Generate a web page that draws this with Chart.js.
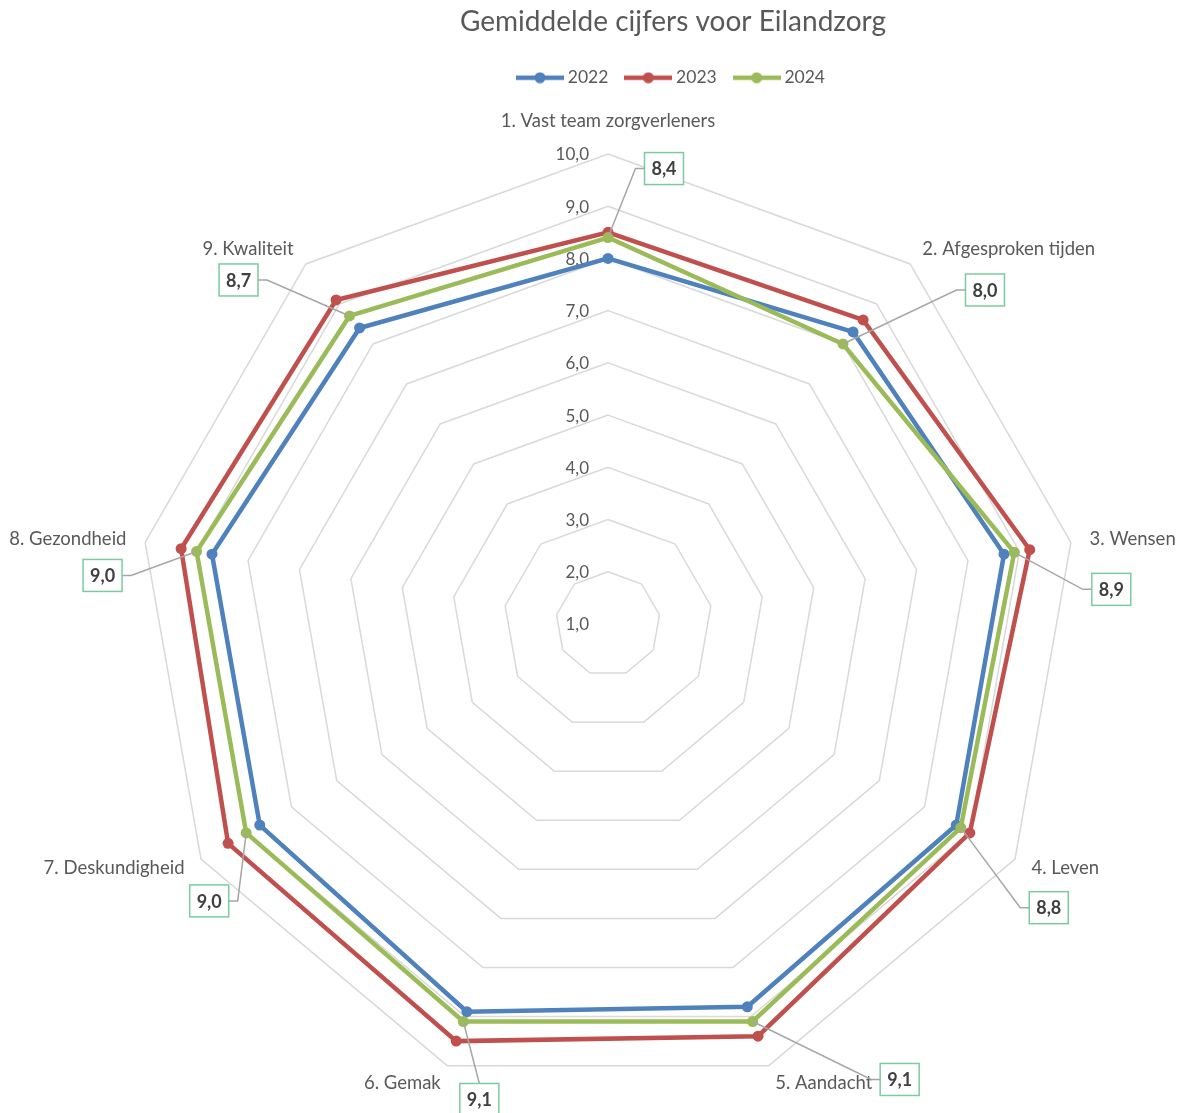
<!DOCTYPE html>
<html>
<head>
<meta charset="utf-8">
<title>Gemiddelde cijfers voor Eilandzorg</title>
<script src="https://cdn.jsdelivr.net/npm/chart.js@4.4.0/dist/chart.umd.min.js"></script>
<style>
  html, body { margin: 0; padding: 0; background: #fff; }
  #wrap { width: 1187px; height: 1113px; }
</style>
</head>
<body>
<div id="wrap"><canvas id="chart" width="1187" height="1113"></canvas></div>
<script>
const categories = [
  '1. Vast team zorgverleners',
  '2. Afgesproken tijden',
  '3. Wensen',
  '4. Leven',
  '5. Aandacht',
  '6. Gemak',
  '7. Deskundigheid',
  '8. Gezondheid',
  '9. Kwaliteit'
];
const values2022 = [8.0, 8.3, 8.7, 8.7, 8.8, 8.9, 8.7, 8.7, 8.4];
const values2023 = [8.5, 8.6, 9.2, 9.0, 9.4, 9.5, 9.4, 9.3, 9.1];
const values2024 = [8.4, 8.0, 8.9, 8.8, 9.1, 9.1, 9.0, 9.0, 8.7];
const tickLabels = ['1,0', '2,0', '3,0', '4,0', '5,0', '6,0', '7,0', '8,0', '9,0', '10,0'];

// value boxes of 2024, offset from their point in px (dragged by hand in the original)
const boxOffsets = [[56, -69], [142, -54], [97, 37], [88, 80], [147, 58], [16, 78], [-37, 68], [-94, 24], [-111, -36]];
// the plot sits left of the title/legend centre in the original
const plotShift = {x: -65, y: 57};

const FONT = 'Lato, "Open Sans", sans-serif';
const GREY = '#595959';
const BLUE = '#4f81bd', RED = '#c0504d', GREEN = '#9bbb59';

const fmt = v => v.toFixed(1).replace('.', ',');

const iconCache = {};
function legendIcon(color) {
  if (iconCache[color]) return iconCache[color];
  const c = document.createElement('canvas');
  c.width = 48;
  c.height = 12;
  const g = c.getContext('2d');
  g.strokeStyle = color;
  g.lineWidth = 4.5;
  g.beginPath();
  g.moveTo(0, 6);
  g.lineTo(48, 6);
  g.stroke();
  g.fillStyle = color;
  g.beginPath();
  g.arc(24, 6, 5.5, 0, Math.PI * 2);
  g.fill();
  iconCache[color] = c;
  return c;
}

const excelLook = {
  id: 'excelLook',
  afterLayout(chart) {
    const r = chart.scales.r;
    r.xCenter += plotShift.x;
    r.yCenter += plotShift.y;
  },
  beforeDatasetsDraw(chart) {
    const ctx = chart.ctx;
    const r = chart.scales.r;
    ctx.save();
    ctx.fillStyle = GREY;
    ctx.textBaseline = 'middle';

    // value axis labels, left of the vertical spoke
    ctx.font = '17px ' + FONT;
    ctx.textAlign = 'right';
    r.ticks.forEach((t, k) => {
      const d = r.getDistanceFromCenterForValue(t.value);
      ctx.fillText(tickLabels[k], r.xCenter - 19, r.yCenter - d + 1);
    });

    // category labels
    ctx.font = '18.5px ' + FONT;
    const n = chart.data.labels.length;
    chart.data.labels.forEach((lab, i) => {
      const p = r.getPointPosition(i, r.drawingArea + 19);
      const deg = Math.round(i * 360 / n);
      let align = 'center';
      if (deg > 0 && deg < 180) align = 'left';
      else if (deg > 180) align = 'right';
      let y = p.y;
      if (deg === 0) y -= 14;
      ctx.textAlign = align;
      ctx.fillText(lab, p.x, y);
    });
    ctx.restore();
  },
  afterDatasetsDraw(chart) {
    const ctx = chart.ctx;
    const meta = chart.getDatasetMeta(2);
    const data = chart.data.datasets[2].data;
    ctx.save();
    ctx.font = 'bold 18px ' + FONT;
    meta.data.forEach((pt, i) => {
      const text = fmt(data[i]);
      const w = Math.round(ctx.measureText(text).width + 14);
      const h = 32;
      const [dx, dy] = boxOffsets[i];
      const cx = pt.x + dx, cy = pt.y + dy;

      ctx.strokeStyle = '#a6a6a6';
      ctx.lineWidth = 1.5;
      ctx.beginPath();
      if (Math.abs(dx) > w / 2 + 4) {
        const side = Math.sign(dx);
        const sx = cx - side * w / 2;
        ctx.moveTo(sx, cy);
        ctx.lineTo(sx - side * 9, cy);
      } else {
        ctx.moveTo(cx, cy - Math.sign(dy) * h / 2);
      }
      ctx.lineTo(pt.x, pt.y);
      ctx.stroke();

      ctx.fillStyle = '#fff';
      ctx.fillRect(cx - w / 2, cy - h / 2, w, h);
      ctx.strokeStyle = '#7ccba0';
      ctx.lineWidth = 1.5;
      ctx.strokeRect(cx - w / 2, cy - h / 2, w, h);

      ctx.fillStyle = '#404040';
      ctx.textAlign = 'center';
      ctx.textBaseline = 'middle';
      ctx.fillText(text, cx, cy + 1);
    });
    ctx.restore();
  }
};

function series(label, data, color, order) {
  return {
    label: label,
    data: data,
    borderColor: color,
    backgroundColor: color,
    borderWidth: 4.5,
    pointRadius: 5.5,
    pointBorderWidth: 0,
    pointBackgroundColor: color,
    fill: false,
    clip: false,
    order: order
  };
}

new Chart(document.getElementById('chart'), {
  type: 'radar',
  data: {
    labels: categories,
    datasets: [
      series('2022', values2022, BLUE, 2),
      series('2023', values2023, RED, 1),
      series('2024', values2024, GREEN, 0)
    ]
  },
  options: {
    responsive: false,
    animation: false,
    layout: {
      padding: {left: 159, right: 0, top: 0, bottom: 75.5}
    },
    plugins: {
      title: {
        display: true,
        text: 'Gemiddelde cijfers voor Eilandzorg',
        color: GREY,
        font: {family: FONT, size: 28, weight: 'normal'},
        padding: {top: 5.3, bottom: 9.1}
      },
      legend: {
        position: 'top',
        labels: {
          usePointStyle: true,
          pointStyleWidth: 38,
          boxHeight: 12,
          padding: 21,
          color: GREY,
          font: {family: FONT, size: 17.5},
          generateLabels(chart) {
            return chart.data.datasets.map((ds, i) => ({
              text: ds.label,
              pointStyle: legendIcon(ds.borderColor),
              fillStyle: ds.borderColor,
              strokeStyle: ds.borderColor,
              lineWidth: 0,
              hidden: !chart.isDatasetVisible(i),
              datasetIndex: i,
              fontColor: GREY
            }));
          }
        }
      },
      tooltip: {enabled: false}
    },
    scales: {
      r: {
        min: 1,
        max: 10,
        ticks: {stepSize: 1, display: false},
        angleLines: {display: false},
        grid: {color: '#d9d9d9', lineWidth: 1.5},
        pointLabels: {display: false}
      }
    }
  },
  plugins: [excelLook]
});
</script>
</body>
</html>
